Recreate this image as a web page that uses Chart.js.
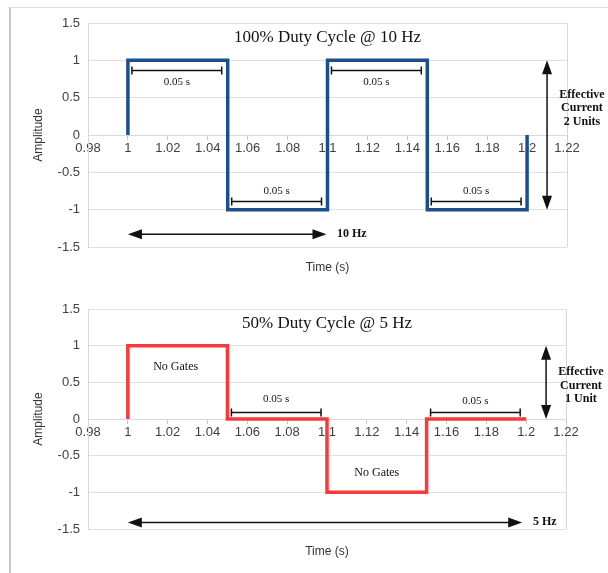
<!DOCTYPE html>
<html>
<head>
<meta charset="utf-8">
<script src="https://cdn.jsdelivr.net/npm/chart.js@4"></script>
<style>
  html, body { margin: 0; padding: 0; background: #fff; }
  #page { position: relative; width: 608px; height: 573px; overflow: hidden; }
  #frame { position: absolute; left: 9px; top: 7px; right: 0; bottom: 0;
           border-left: 2px solid #c6c6c6; border-top: 1px solid #dcdcdc; }
  canvas { position: absolute; left: 0; }
</style>
</head>
<body>
<div id="page">
  <div id="frame"></div>
  <canvas id="topChart" style="top:0;width:608px;height:290px"></canvas>
  <canvas id="bottomChart" style="top:290px;width:608px;height:283px"></canvas>
</div>
<script>
// waveform data (time in s, amplitude)
const timeTop = [1, 1, 1.05, 1.05, 1.1, 1.1, 1.15, 1.15, 1.2, 1.2];
const ampTop = [0, 1, 1, -1, -1, 1, 1, -1, -1, 0];
const timeBottom = [1, 1, 1.05, 1.05, 1.1, 1.1, 1.15, 1.15, 1.2];
const ampBottom = [0, 1, 1, 0, 0, -1, -1, 0, 0];

// tick labels
const xTicks = [0.98, 1, 1.02, 1.04, 1.06, 1.08, 1.1, 1.12, 1.14, 1.16, 1.18, 1.2, 1.22];
const yTicks = [-1.5, -1, -0.5, 0, 0.5, 1, 1.5];

// drawn notes, placed in data coordinates
const topNotes = [
  { kind: 'text', x: 1.1, y: 1.31, text: '100% Duty Cycle @ 10 Hz', font: '17px "Liberation Serif"' },
  { kind: 'dim', x1: 1.002, x2: 1.047, y: 0.87, label: '0.05 s', ly: 0.71 },
  { kind: 'dim', x1: 1.102, x2: 1.147, y: 0.87, label: '0.05 s', ly: 0.71 },
  { kind: 'dim', x1: 1.052, x2: 1.097, y: -0.88, label: '0.05 s', ly: -0.75 },
  { kind: 'dim', x1: 1.152, x2: 1.197, y: -0.88, label: '0.05 s', ly: -0.75 },
  { kind: 'arrow', x1: 1.0, y1: -1.33, x2: 1.0995, y2: -1.33, both: true },
  { kind: 'text', x: 1.1047, y: -1.33, text: '10 Hz', font: 'bold 12px "Liberation Serif"', align: 'left' },
  { kind: 'arrow', x1: 1.21, y1: 1.0, x2: 1.21, y2: -1.0, both: true },
  { kind: 'text', x: 1.2275, y: 0.535, text: 'Effective', font: 'bold 12px "Liberation Serif"' },
  { kind: 'text', x: 1.2275, y: 0.36, text: 'Current', font: 'bold 12px "Liberation Serif"' },
  { kind: 'text', x: 1.2275, y: 0.175, text: '2 Units', font: 'bold 12px "Liberation Serif"' }
];

const bottomNotes = [
  { kind: 'text', x: 1.1, y: 1.30, text: '50% Duty Cycle @ 5 Hz', font: '17px "Liberation Serif"' },
  { kind: 'text', x: 1.024, y: 0.71, text: 'No Gates', font: '12px "Liberation Serif"' },
  { kind: 'text', x: 1.125, y: -0.74, text: 'No Gates', font: '12px "Liberation Serif"' },
  { kind: 'dim', x1: 1.052, x2: 1.097, y: 0.1, label: '0.05 s', ly: 0.27 },
  { kind: 'dim', x1: 1.152, x2: 1.197, y: 0.1, label: '0.05 s', ly: 0.25 },
  { kind: 'arrow', x1: 1.0, y1: -1.41, x2: 1.198, y2: -1.41, both: true },
  { kind: 'text', x: 1.2034, y: -1.41, text: '5 Hz', font: 'bold 12px "Liberation Serif"', align: 'left' },
  { kind: 'arrow', x1: 1.21, y1: 1.0, x2: 1.21, y2: 0.0, both: true },
  { kind: 'text', x: 1.2275, y: 0.64, text: 'Effective', font: 'bold 12px "Liberation Serif"' },
  { kind: 'text', x: 1.2275, y: 0.45, text: 'Current', font: 'bold 12px "Liberation Serif"' },
  { kind: 'text', x: 1.2275, y: 0.27, text: '1 Unit', font: 'bold 12px "Liberation Serif"' }
];

function arrowHead(ctx, x, y, angle) {
  const len = 14, half = 5;
  ctx.save();
  ctx.translate(x, y);
  ctx.rotate(angle);
  ctx.beginPath();
  ctx.moveTo(0, 0);
  ctx.lineTo(-len, -half);
  ctx.lineTo(-len, half);
  ctx.closePath();
  ctx.fill();
  ctx.restore();
}

// draws the notes and the bottom axis caption
const notesPlugin = {
  id: 'notes',
  afterDatasetsDraw(chart, args, opts) {
    const { ctx, scales: { x, y }, chartArea } = chart;
    ctx.save();
    ctx.fillStyle = '#111';
    ctx.strokeStyle = '#111';
    ctx.textBaseline = 'middle';
    (opts.items || []).forEach(n => {
      if (n.kind === 'text') {
        ctx.font = n.font;
        ctx.textAlign = n.align || 'center';
        ctx.fillText(n.text, x.getPixelForValue(n.x), y.getPixelForValue(n.y));
      } else if (n.kind === 'dim') {
        const a = x.getPixelForValue(n.x1), b = x.getPixelForValue(n.x2);
        const py = Math.round(y.getPixelForValue(n.y)) + 0.5;
        ctx.lineWidth = 1.5;
        ctx.beginPath();
        ctx.moveTo(a, py); ctx.lineTo(b, py);
        ctx.moveTo(a, py - 4); ctx.lineTo(a, py + 4);
        ctx.moveTo(b, py - 4); ctx.lineTo(b, py + 4);
        ctx.stroke();
        ctx.font = '11px "Liberation Serif"';
        ctx.textAlign = 'center';
        ctx.fillText(n.label, (a + b) / 2, y.getPixelForValue(n.ly));
      } else if (n.kind === 'arrow') {
        const x1 = x.getPixelForValue(n.x1), y1 = y.getPixelForValue(n.y1);
        const x2 = x.getPixelForValue(n.x2), y2 = y.getPixelForValue(n.y2);
        const ang = Math.atan2(y2 - y1, x2 - x1);
        ctx.lineWidth = 1.5;
        ctx.beginPath();
        ctx.moveTo(x1 + Math.cos(ang) * 10, y1 + Math.sin(ang) * 10);
        ctx.lineTo(x2 - Math.cos(ang) * 10, y2 - Math.sin(ang) * 10);
        ctx.stroke();
        arrowHead(ctx, x2, y2, ang);
        if (n.both) arrowHead(ctx, x1, y1, ang + Math.PI);
      }
    });
    // x axis caption sits under the plot
    ctx.font = '12px "Liberation Sans"';
    ctx.fillStyle = '#333';
    ctx.textAlign = 'center';
    ctx.fillText('Time (s)', (chartArea.left + chartArea.right) / 2, chartArea.bottom + opts.captionGap);
    ctx.restore();
  }
};

function fmt(v) {
  return String(Math.round(v * 100) / 100);
}

function makeChart(canvasId, times, amps, color, notes, size, pad, captionGap) {
  const canvas = document.getElementById(canvasId);
  canvas.width = size.w;
  canvas.height = size.h;
  return new Chart(canvas, {
    type: 'line',
    data: {
      datasets: [{
        data: times.map((t, i) => ({ x: t, y: amps[i] })),
        borderColor: color,
        borderWidth: 3.5,
        borderJoinStyle: 'miter',
        borderCapStyle: 'butt',
        pointRadius: 0,
        tension: 0,
        fill: false,
        clip: false
      }]
    },
    options: {
      responsive: false,
      animation: false,
      events: [],
      layout: { padding: pad },
      plugins: {
        legend: { display: false },
        tooltip: { enabled: false },
        notes: { items: notes, captionGap: captionGap }
      },
      scales: {
        x: {
          type: 'linear',
          position: { y: 0 },
          min: 0.98,
          max: 1.22,
          afterBuildTicks: s => { s.ticks = xTicks.map(v => ({ value: v })); },
          ticks: {
            callback: v => fmt(v),
            color: '#404040',
            font: { family: '"Liberation Sans"', size: 13 },
            padding: 2,
            maxRotation: 0,
            autoSkip: false
          },
          grid: {
            color: c => (c.index === 0 || c.index === xTicks.length - 1) ? '#d9d9d9' : 'rgba(0,0,0,0)',
            tickColor: '#c8c8c8',
            tickLength: 4,
            drawTicks: true
          },
          border: { display: true, color: '#d9d9d9' }
        },
        y: {
          min: -1.5,
          max: 1.5,
          afterBuildTicks: s => { s.ticks = yTicks.map(v => ({ value: v })); },
          afterFit: s => { s.width = 88 - pad.left; },
          ticks: {
            callback: v => fmt(v),
            color: '#404040',
            font: { family: '"Liberation Sans"', size: 13 },
            padding: 8
          },
          grid: { color: '#e1e1e1', drawTicks: false },
          border: { display: true, color: '#d9d9d9' },
          title: {
            display: true,
            text: 'Amplitude',
            color: '#333',
            font: { family: '"Liberation Sans"', size: 12 },
            padding: { top: 4, bottom: 4 }
          }
        }
      }
    },
    plugins: [notesPlugin]
  });
}

makeChart('topChart', timeTop, ampTop, '#1b4e8d', topNotes,
  { w: 608, h: 290 }, { left: 27, top: 23, right: 41, bottom: 43 }, 21);
makeChart('bottomChart', timeBottom, ampBottom, '#fa3a3a', bottomNotes,
  { w: 608, h: 283 }, { left: 27, top: 19, right: 42, bottom: 44 }, 23);
</script>
</body>
</html>
